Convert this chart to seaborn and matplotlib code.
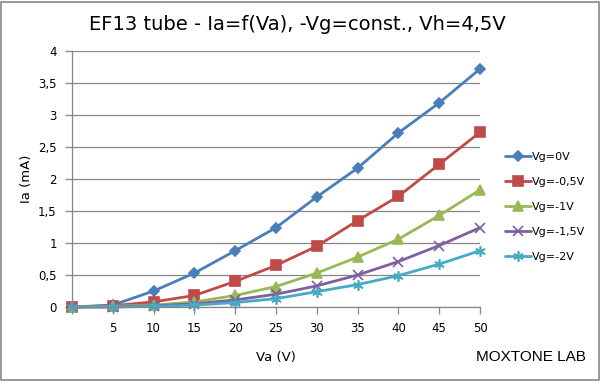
import pandas as pd
import matplotlib
matplotlib.use("Agg")
import matplotlib.pyplot as plt
import seaborn as sns

# anode voltage (V) and anode current (mA) for each grid voltage
va = [0, 5, 10, 15, 20, 25, 30, 35, 40, 45, 50]
ia_0 = [0, 0.03, 0.25, 0.53, 0.88, 1.24, 1.72, 2.17, 2.72, 3.19, 3.72]
ia_05 = [0, 0.02, 0.08, 0.18, 0.40, 0.65, 0.95, 1.35, 1.73, 2.23, 2.73]
ia_1 = [0, 0.01, 0.03, 0.08, 0.18, 0.32, 0.53, 0.78, 1.06, 1.43, 1.83]
ia_15 = [0, 0.0, 0.02, 0.05, 0.11, 0.20, 0.33, 0.50, 0.71, 0.96, 1.24]
ia_2 = [0, 0.0, 0.01, 0.03, 0.07, 0.13, 0.24, 0.35, 0.49, 0.67, 0.88]

series_names = ["Vg=0V", "Vg=-0,5V", "Vg=-1V", "Vg=-1,5V", "Vg=-2V"]
x_labels = ["", "5", "10", "15", "20", "25", "30", "35", "40", "45", "50"]
y_ticks = [0, 0.5, 1, 1.5, 2, 2.5, 3, 3.5, 4]
y_labels = ["0", "0,5", "1", "1,5", "2", "2,5", "3", "3,5", "4"]

colors = ["#4A7EBB", "#BE4B48", "#98B954", "#7D60A0", "#46AAC5"]
markers = ["D", "s", "^", "x", (6, 2, 0)]
msizes = [5, 6.5, 6.5, 6.5, 7.5]

rows = []
for name, vals in zip(series_names, [ia_0, ia_05, ia_1, ia_15, ia_2]):
    for x, y in zip(va, vals):
        rows.append({"Va": x, "Ia": y, "Vg": name})
df = pd.DataFrame(rows)

sns.set_style("white")
plt.rcParams["font.family"] = ["DejaVu Sans"]
plt.rcParams["text.color"] = "black"
plt.rcParams["axes.labelcolor"] = "black"
plt.rcParams["xtick.color"] = "black"
plt.rcParams["ytick.color"] = "black"

fig = plt.figure(figsize=(6.01, 3.81), dpi=100)
ax = fig.add_axes([72 / 601, 1 - 307 / 381, (480 - 72) / 601, (307 - 51) / 381])

for name, col, mk, ms in zip(series_names, colors, markers, msizes):
    sub = df[df["Vg"] == name]
    sns.lineplot(data=sub, x="Va", y="Ia", ax=ax, color=col, marker=mk,
                 markersize=ms, markeredgecolor=col, markeredgewidth=1.2,
                 linewidth=2.0, label=name, clip_on=False)

ax.set_xlim(0, 50)
ax.set_ylim(0, 4)
ax.set_xticks(va)
ax.set_xticklabels(x_labels, fontsize=8.5)
ax.set_yticks(y_ticks)
ax.set_yticklabels(y_labels, fontsize=8.5)
ax.yaxis.grid(True, color="#868686", linewidth=0.9)
ax.xaxis.grid(False)
ax.set_axisbelow(True)
for s in ["top", "right"]:
    ax.spines[s].set_visible(False)
for s in ["left", "bottom"]:
    ax.spines[s].set_color("#868686")
    ax.spines[s].set_linewidth(0.9)
ax.tick_params(axis="both", direction="out", length=5, width=0.9,
               color="#868686", labelcolor="black", pad=6,
               bottom=True, left=True)

ax.set_xlabel("Va (V)", fontsize=9.5, labelpad=11)
ax.set_ylabel("Ia (mA)", fontsize=9.5, labelpad=4)

fig.suptitle("EF13 tube - Ia=f(Va), -Vg=const., Vh=4,5V", fontsize=14,
             x=297 / 601, y=1 - 25 / 381, va="center")

ax.legend(loc="center left", bbox_to_anchor=(505 / 601, 1 - 207 / 381),
          bbox_transform=fig.transFigure, frameon=False, fontsize=8,
          handlelength=2.3, handletextpad=0.1, labelspacing=1.35,
          borderaxespad=0, borderpad=0)

fig.text(586 / 601, 1 - 357 / 381, "MOXTONE LAB", ha="right", va="center",
         fontsize=11, family="Liberation Sans")

fig.patches.append(plt.Rectangle((0.002, 0.003), 0.995, 0.993,
                                 transform=fig.transFigure, fill=False,
                                 edgecolor="#868686", linewidth=1.2))

fig.savefig("out.png", dpi=100)
